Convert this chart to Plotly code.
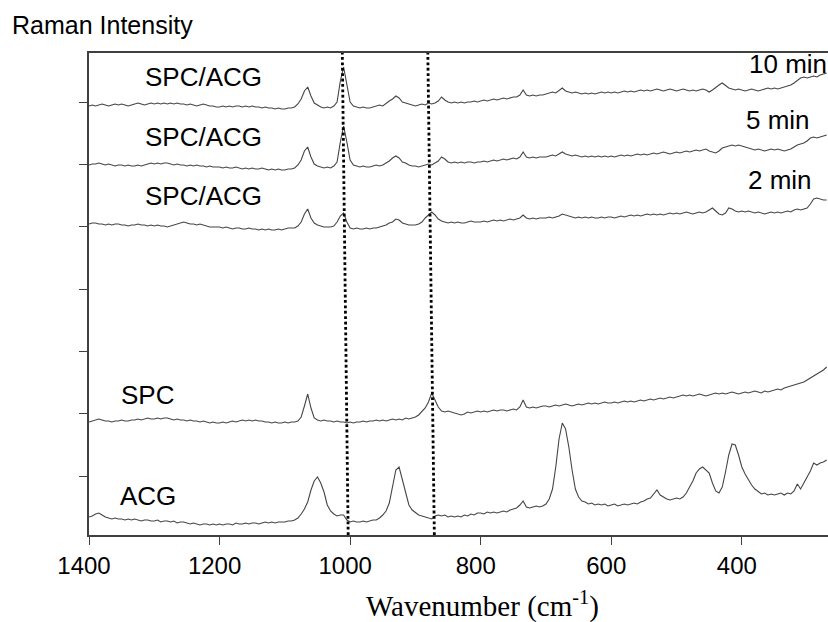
import plotly.graph_objects as go

# Wavenumber grid (cm-1), 1400 -> 270 in 5 cm-1 steps
wavenumber = list(range(1400, 265, -5))

# Relative intensities (arbitrary units), one row per 100 cm-1
acg = sum([
    [0, 1, 3, 4, 2, 0, -1, -2, -1, -2, -2, -3, -2, -3, -2, -3, -4, -3, -3, -4],
    [-4, -3, -5, -4, -4, -5, -4, -6, -5, -5, -6, -7, -6, -7, -8, -7, -7, -8, -7, -8],
    [-7, -8, -7, -7, -8, -6, -7, -7, -6, -7, -6, -6, -7, -6, -5, -6, -5, -6, -5, -5],
    [-5, -4, -4, -3, -1, 3, 8, 15, 27, 36, 40, 34, 25, 12, 6, 3, 1, 2, 2, -3],
    [-5, -4, -5, -5, -4, -5, -4, -3, -3, -1, 2, 6, 14, 32, 47, 50, 38, 26, 12, 7],
    [4, 2, 1, 0, -1, -2, 1, 2, 1, 2, 0, 1, 0, 1, 0, 2, 1, 3, 2, 4],
    [4, 3, 5, 4, 5, 4, 5, 6, 5, 7, 8, 9, 12, 16, 10, 9, 10, 11, 10, 11],
    [13, 18, 28, 50, 78, 94, 88, 70, 47, 28, 20, 16, 15, 13, 14, 12, 13, 12, 13, 11],
    [12, 13, 11, 12, 13, 12, 13, 14, 13, 15, 16, 18, 19, 23, 27, 22, 20, 18, 17, 18],
    [19, 18, 20, 24, 30, 36, 44, 48, 50, 47, 44, 34, 26, 24, 30, 45, 62, 73, 72, 62],
    [50, 43, 37, 32, 28, 25, 23, 24, 22, 23, 22, 23, 24, 22, 24, 23, 26, 33, 28, 34],
    [40, 46, 54, 52, 54, 55, 57],
], [])

spc = sum([
    [0, 1, 2, 3, 2, 1, 1, 0, 1, 1, 2, 1, 1, 2, 2, 3, 2, 3, 4, 3],
    [3, 4, 3, 4, 4, 3, 2, 3, 2, 2, 1, 2, 1, 1, 0, 1, 0, -1, 0, -1],
    [-1, 0, -1, 0, 1, 0, 1, 2, 1, 2, 1, 2, 1, 1, 0, 0, -1, 0, -1, -1],
    [0, -1, 0, 0, 1, 5, 16, 28, 14, 4, 2, 1, 2, 1, 1, 0, 1, 0, 0, -1],
    [0, -1, 0, 0, 1, 0, 1, 1, 2, 1, 2, 1, 2, 3, 2, 3, 2, 4, 3, 4],
    [5, 7, 10, 14, 20, 29, 22, 15, 11, 10, 11, 10, 9, 8, 7, 8, 10, 9, 10, 11],
    [10, 11, 10, 11, 12, 11, 12, 12, 11, 12, 13, 12, 15, 22, 15, 14, 15, 14, 15, 16],
    [16, 15, 16, 17, 16, 17, 18, 17, 16, 17, 18, 17, 18, 19, 18, 19, 18, 19, 20, 19],
    [19, 20, 19, 20, 21, 20, 21, 20, 21, 22, 21, 22, 23, 22, 23, 24, 23, 24, 25, 24],
    [25, 26, 27, 26, 27, 26, 27, 28, 27, 26, 27, 28, 29, 28, 29, 28, 29, 30, 29, 28],
    [29, 30, 29, 30, 31, 30, 29, 31, 30, 31, 32, 33, 32, 34, 35, 36, 37, 38, 39, 40],
    [42, 44, 46, 48, 50, 52, 55],
], [])

mix_2min = sum([
    [2, 3, 3, 2, 2, 1, 2, 1, 2, 2, 1, 1, 0, 1, 1, 2, 1, 1, 0, 1],
    [0, 1, 0, 0, -1, 0, 1, 2, 3, 4, 3, 2, 2, 1, 2, 1, 0, -1, -1, -1],
    [-1, -2, -1, -2, -3, -2, -2, -3, -3, -2, -3, -3, -4, -3, -4, -3, -4, -4, -3, -4],
    [-3, -2, -2, -2, 0, 4, 12, 17, 8, 3, 1, 0, -1, -1, -1, 0, 4, 10, 13, 4],
    [-2, -3, -2, -3, -3, -2, -3, -2, -2, -1, 0, 1, 3, 4, 7, 6, 3, 2, 1, 1],
    [1, 2, 4, 8, 11, 14, 11, 7, 5, 4, 3, 4, 3, 4, 3, 3, 4, 5, 4, 4],
    [4, 5, 4, 5, 6, 5, 6, 5, 6, 7, 6, 7, 8, 11, 8, 7, 8, 7, 8, 8],
    [8, 9, 8, 9, 10, 12, 11, 10, 9, 8, 9, 8, 9, 8, 9, 8, 8, 9, 8, 9],
    [9, 8, 9, 10, 9, 10, 11, 10, 11, 10, 11, 12, 11, 12, 11, 12, 11, 12, 13, 12],
    [13, 12, 13, 14, 13, 12, 13, 14, 13, 14, 16, 18, 15, 12, 11, 13, 18, 17, 15, 14],
    [15, 14, 15, 14, 13, 14, 13, 12, 13, 14, 13, 14, 13, 14, 15, 14, 16, 17, 16, 17],
    [18, 22, 27, 28, 27, 26, 26],
], [])

mix_5min = sum([
    [-1, 0, 0, 1, 0, -1, 0, -1, -2, -1, -1, -2, -1, -2, -2, -1, -2, -1, 0, 1],
    [0, 1, 0, 1, 1, 0, -1, 0, -1, -1, -2, -1, -2, -1, -2, -2, -3, -2, -3, -3],
    [-3, -4, -3, -4, -4, -3, -4, -5, -4, -5, -4, -5, -5, -4, -5, -6, -5, -6, -5, -6],
    [-6, -5, -5, -4, -1, 4, 13, 17, 7, 0, -2, -3, -4, -3, -4, -2, 2, 22, 38, 22],
    [4, -1, -2, -3, -2, -3, -3, -2, -1, -2, -1, 1, 3, 6, 8, 6, 2, 1, -1, -2],
    [-2, -3, -2, -1, 0, -1, 1, 3, 7, 5, 2, 1, 2, 1, 2, 1, 2, 2, 1, 2],
    [2, 3, 2, 3, 4, 3, 4, 5, 4, 5, 6, 5, 7, 12, 7, 6, 7, 6, 7, 7],
    [7, 8, 9, 8, 10, 12, 10, 9, 8, 9, 8, 7, 8, 7, 8, 7, 8, 7, 8, 7],
    [8, 7, 8, 9, 8, 9, 8, 9, 10, 9, 10, 9, 10, 11, 10, 11, 12, 11, 10, 11],
    [12, 11, 12, 13, 12, 13, 14, 13, 14, 15, 13, 12, 11, 13, 16, 17, 18, 19, 18, 19],
    [18, 17, 16, 15, 14, 15, 14, 13, 14, 15, 14, 15, 14, 13, 14, 15, 17, 19, 20, 21],
    [23, 26, 27, 26, 27, 28, 29],
], [])

mix_10min = sum([
    [-1, 0, -1, 0, 1, 0, -1, 0, 1, 0, 1, 0, -1, 0, 1, 2, 1, 0, 1, 2],
    [1, 2, 1, 2, 1, 2, 1, 2, 1, 1, 0, 1, 0, -1, 0, 1, 0, -1, -1, -2],
    [-2, -1, -2, -1, -2, -1, -1, -2, -1, -2, -1, -2, -2, -3, -2, -3, -3, -4, -3, -4],
    [-4, -3, -3, -2, 1, 6, 14, 18, 9, 2, 0, -2, -3, -2, -3, -1, 3, 24, 38, 22],
    [3, -1, -2, -3, -2, -3, -3, -2, -1, 0, -1, 2, 4, 6, 9, 7, 3, 2, 1, 0],
    [-1, 0, 1, 0, 2, 1, 2, 4, 8, 5, 3, 2, 3, 2, 3, 2, 3, 3, 4, 3],
    [4, 5, 4, 5, 6, 5, 6, 7, 6, 7, 8, 8, 10, 15, 10, 9, 10, 9, 10, 10],
    [11, 12, 13, 12, 15, 17, 14, 13, 12, 13, 12, 11, 12, 11, 12, 11, 12, 13, 12, 13],
    [12, 13, 12, 13, 14, 13, 14, 13, 14, 15, 14, 15, 14, 15, 16, 15, 14, 15, 16, 15],
    [14, 15, 16, 15, 14, 15, 14, 15, 16, 15, 13, 15, 18, 20, 22, 19, 17, 16, 15, 16],
    [15, 14, 15, 16, 15, 14, 15, 16, 17, 16, 17, 16, 17, 18, 19, 20, 22, 25, 27, 28],
    [27, 28, 29, 28, 30, 31, 32],
], [])

series = [acg, spc, mix_2min, mix_5min, mix_10min]
series_offsets = [18, 113, 309, 371, 430]

# Reference (dotted) lines: wavenumber at top and at bottom of the plot
ref_lines_top = [1012, 881]
ref_lines_bottom = [1003, 871]

x_ticks = [1400, 1200, 1000, 800, 600, 400]
y_ticks = [59, 121.3, 183.6, 245.9, 308.2, 370.5, 432.8]
y_range = [0, 482]
x_range = [1400, 268]

for s in series:
    assert len(s) == len(wavenumber), len(s)

fig = go.Figure()
line_col = "#454545"
for s, off in zip(series, series_offsets):
    fig.add_trace(go.Scatter(
        x=wavenumber, y=[off + v for v in s], mode="lines",
        line=dict(color=line_col, width=1.1), showlegend=False, hoverinfo="skip"))

for top, bot in zip(ref_lines_top, ref_lines_bottom):
    fig.add_trace(go.Scatter(
        x=[bot, top], y=[y_range[0], y_range[1]], mode="lines",
        line=dict(color="black", width=2.8, dash="2.8px,2.6px"),
        showlegend=False, hoverinfo="skip"))

sans = "Arial, 'Liberation Sans', sans-serif"
serif = "'Times New Roman', 'Liberation Serif', serif"
lab_font = dict(family=sans, size=26, color="black")

labels = [
    ("SPC/ACG", 1225, 458, "center"),
    ("SPC/ACG", 1225, 398, "center"),
    ("SPC/ACG", 1225, 339, "center"),
    ("SPC", 1310, 140, "center"),
    ("ACG", 1310, 39, "center"),
    ("10 min", 329, 471, "center"),
    ("5 min", 344, 415, "center"),
    ("2 min", 341, 355, "center"),
]
annotations = []
for txt, xx, yy, anc in labels:
    annotations.append(dict(text=txt, x=xx, y=yy, xref="x", yref="y",
                            showarrow=False, font=lab_font, xanchor=anc, yanchor="middle"))

annotations.append(dict(text="Raman Intensity", x=-0.107, y=1.058, xref="paper", yref="paper",
                        showarrow=False, xanchor="left", yanchor="middle",
                        font=dict(family=sans, size=25, color="black")))
annotations.append(dict(text="Wavenumber (cm<sup>-1</sup>)", x=0.533, y=-0.145,
                        xref="paper", yref="paper", showarrow=False,
                        xanchor="center", yanchor="middle",
                        font=dict(family=serif, size=29, color="black")))

axis_col = "#404040"
fig.update_layout(
    width=828, height=622,
    margin=dict(l=89, r=0, t=53, b=87, pad=0),
    paper_bgcolor="white", plot_bgcolor="white",
    annotations=annotations,
    xaxis=dict(range=x_range, tickvals=x_ticks, ticks="outside", ticklen=8,
               tickcolor=axis_col, tickwidth=1, showline=True, linecolor=axis_col,
               linewidth=1.5, mirror=True, showgrid=False, zeroline=False,
               ticklabelshift=5,
               tickfont=dict(family=sans, size=24, color="black")),
    yaxis=dict(range=y_range, tickvals=y_ticks, ticks="outside", ticklen=8,
               tickcolor=axis_col, tickwidth=1, showline=True, linecolor=axis_col,
               linewidth=1.5, showticklabels=False, showgrid=False, zeroline=False),
)

# remove the page's default body margin so the figure sits at the window's corner
fig.write_html("out.html",
               config={"displayModeBar": False},
               post_script="document.body.style.margin='0';document.body.style.overflow='hidden';")
